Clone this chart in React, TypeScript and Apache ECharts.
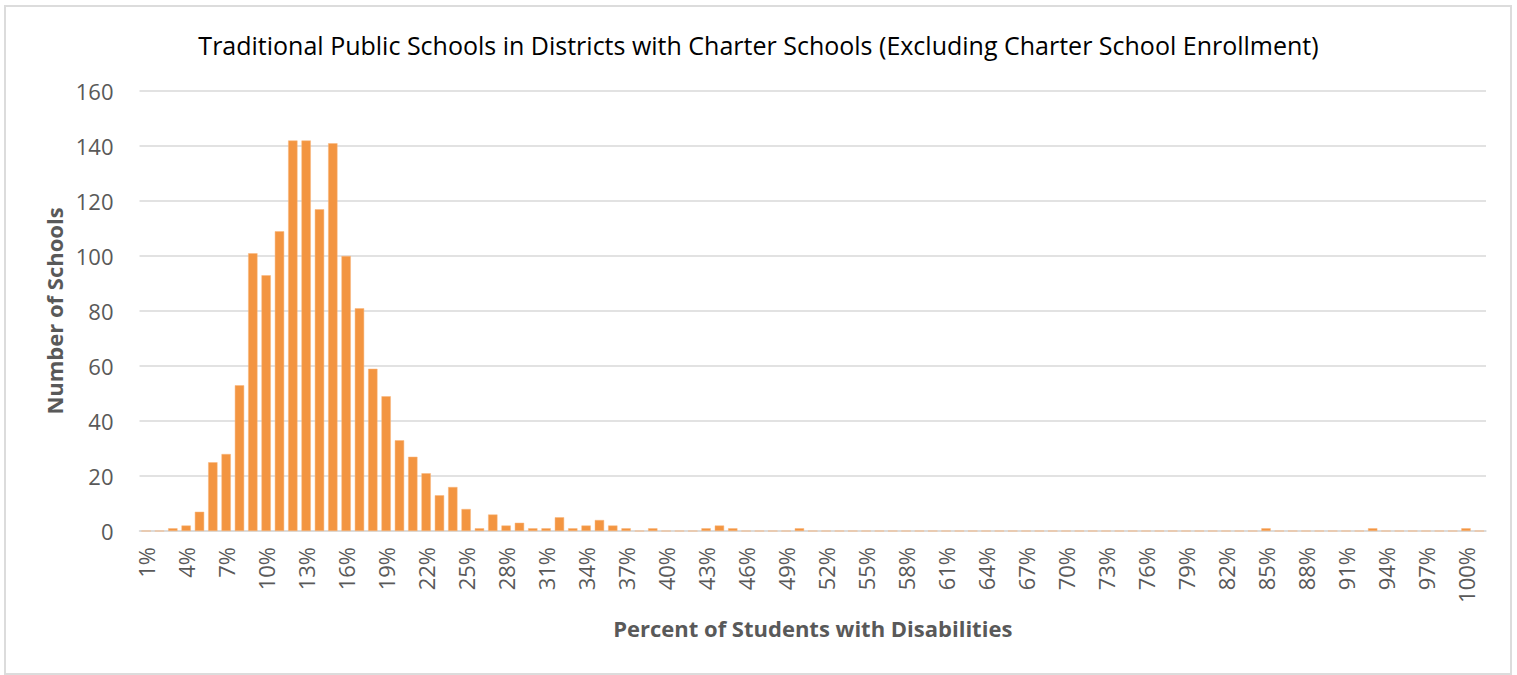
import React, { useEffect, useRef } from "react";
import * as echarts from "echarts";

const titleText =
  "Traditional Public Schools in Districts with Charter Schools (Excluding Charter School Enrollment)";
const xAxisName = "Percent of Students with Disabilities";
const yAxisName = "Number of Schools";

// Bins 1% .. 100%, plus Excel's trailing "More" bin
const categories: string[] = [
  "1%", "2%", "3%", "4%", "5%", "6%", "7%", "8%", "9%", "10%",
  "11%", "12%", "13%", "14%", "15%", "16%", "17%", "18%", "19%", "20%",
  "21%", "22%", "23%", "24%", "25%", "26%", "27%", "28%", "29%", "30%",
  "31%", "32%", "33%", "34%", "35%", "36%", "37%", "38%", "39%", "40%",
  "41%", "42%", "43%", "44%", "45%", "46%", "47%", "48%", "49%", "50%",
  "51%", "52%", "53%", "54%", "55%", "56%", "57%", "58%", "59%", "60%",
  "61%", "62%", "63%", "64%", "65%", "66%", "67%", "68%", "69%", "70%",
  "71%", "72%", "73%", "74%", "75%", "76%", "77%", "78%", "79%", "80%",
  "81%", "82%", "83%", "84%", "85%", "86%", "87%", "88%", "89%", "90%",
  "91%", "92%", "93%", "94%", "95%", "96%", "97%", "98%", "99%", "100%",
  "More",
];

const schoolCounts: number[] = [
  0, 0, 1, 2, 7, 25, 28, 53, 101, 93,
  109, 142, 142, 117, 141, 100, 81, 59, 49, 33,
  27, 21, 13, 16, 8, 1, 6, 2, 3, 1,
  1, 5, 1, 2, 4, 2, 1, 0, 1, 0,
  0, 0, 1, 2, 1, 0, 0, 0, 0, 1,
  0, 0, 0, 0, 0, 0, 0, 0, 0, 0,
  0, 0, 0, 0, 0, 0, 0, 0, 0, 0,
  0, 0, 0, 0, 0, 0, 0, 0, 0, 0,
  0, 0, 0, 0, 1, 0, 0, 0, 0, 0,
  0, 0, 1, 0, 0, 0, 0, 0, 0, 1,
  0,
];

const yTicks = { min: 0, max: 160, interval: 20 };

export default function App() {
  const ref = useRef<HTMLDivElement>(null);
  useEffect(() => {
    if (!ref.current) return;
    const chart = echarts.init(ref.current, undefined, { renderer: "svg" });
    const font = "'Open Sans', 'Noto Sans', sans-serif";
    chart.setOption({
      animation: false,
      backgroundColor: "#ffffff",
      textStyle: { fontFamily: font },
      title: {
        text: titleText,
        left: "center",
        top: 27,
        textStyle: { fontFamily: font, fontSize: 25, fontWeight: "normal", color: "#000000" },
      },
      graphic: [
        {
          type: "rect",
          shape: { x: 5, y: 6, width: 1506, height: 668 },
          style: { fill: "none", stroke: "#dcdcdc", lineWidth: 2 },
          silent: true,
          z: -1,
        },
      ],
      grid: { left: 139.5, right: 31, top: 91, bottom: 144, containLabel: false },
      xAxis: {
        type: "category",
        data: categories,
        name: xAxisName,
        nameLocation: "middle",
        nameGap: 86,
        nameTextStyle: { fontFamily: font, fontSize: 22, fontWeight: "bold", color: "#595959" },
        axisLine: { lineStyle: { color: "#d9d9d9", width: 1.5 } },
        axisTick: { show: false },
        axisLabel: {
          interval: 2,
          rotate: 90,
          margin: 16,
          fontFamily: font,
          fontSize: 22,
          color: "#595959",
        },
      },
      yAxis: {
        type: "value",
        min: yTicks.min,
        max: yTicks.max,
        interval: yTicks.interval,
        name: yAxisName,
        nameLocation: "middle",
        nameGap: 74,
        nameTextStyle: { fontFamily: font, fontSize: 22, fontWeight: "bold", color: "#595959" },
        axisLine: { show: false },
        axisTick: { show: false },
        axisLabel: { margin: 26, fontFamily: font, fontSize: 22, color: "#595959" },
        splitLine: { lineStyle: { color: "#d9d9d9", width: 1.5 } },
      },
      series: [
        {
          type: "bar",
          data: schoolCounts,
          barCategoryGap: "30%",
          itemStyle: { color: "#F39541", borderColor: "#F8B77C", borderWidth: 0.5 },
        },
      ],
    });
    return () => chart.dispose();
  }, []);
  return (
    <div
      ref={ref}
      style={{ position: "absolute", left: 0, top: 0, width: 1517, height: 675 }}
    />
  );
}
